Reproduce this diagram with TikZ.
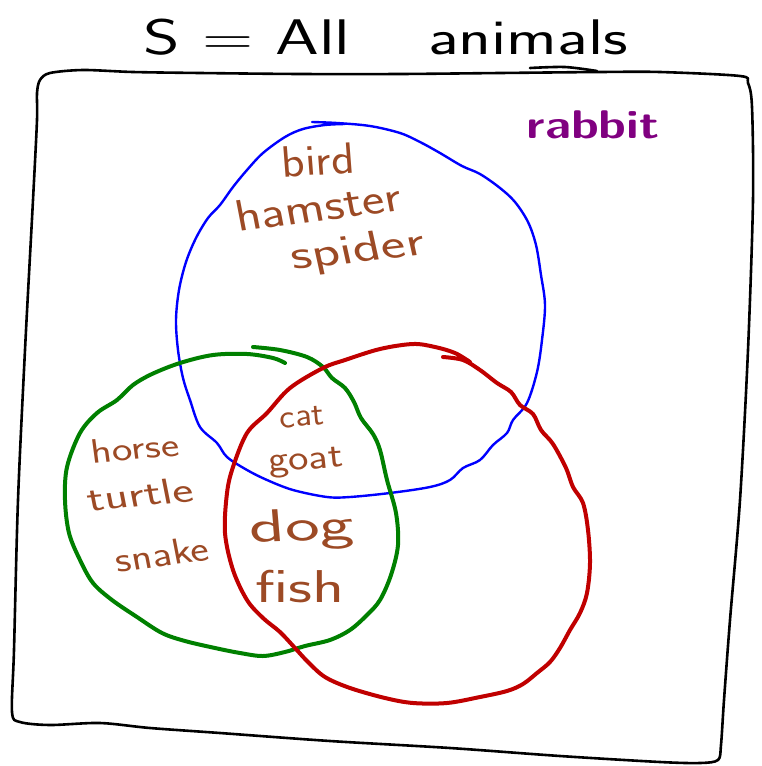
\documentclass[tikz,border=0pt]{standalone}
\usetikzlibrary{calc}
\definecolor{labbrown}{RGB}{156,74,37}
\definecolor{setblue}{RGB}{0,0,255}
\definecolor{setgreen}{RGB}{0,128,0}
\definecolor{setred}{RGB}{192,0,0}
\definecolor{rabbitpurple}{RGB}{128,0,128}
\tikzset{
  lab/.style={text=labbrown, inner sep=0pt, font=\sffamily\fontsize{#1}{#1}\selectfont},
  framepen/.style={draw=black, line width=2.6pt, line cap=round, line join=round},
  bluepen/.style={draw=setblue, line width=2.4pt, line cap=round, line join=round},
  greenpen/.style={draw=setgreen, line width=4pt, line cap=round, line join=round},
  redpen/.style={draw=setred, line width=4pt, line cap=round, line join=round},
  titlefont/.style={text=black, inner sep=0pt, font=\sffamily\fontsize{#1}{#1}\selectfont}
}
\begin{document}
\begin{tikzpicture}[x=1pt,y=-1pt]
\useasboundingbox (0,0) rectangle (761,766);

% universe frame
\draw[framepen] plot[smooth cycle, tension=0.5] coordinates {
 (37,93) (40,80) (50,73) (83,70) (133,72) (200,73) (300,74) (400,74) (500,73) (600,72) (660,72) (740,76) (748,83) (752,107)
 (753,200) (748,350) (740,500) (730,620) (724,700) (721,745) (718,760) (700,763) (660,762) (560,756) (450,748) (330,741) (220,733) (150,728) (100,723) (50,725) (20,722) (12,712)
 (14,650) (18,500) (25,350) (33,200) (37,120)};
\draw[framepen] plot[smooth] coordinates {(530,68) (565,67) (597,71)};

% title
\node[titlefont=50, xscale=1.4] (tS) at (247,37) {S = All};
\node[titlefont=50, xscale=1.36] (tA) at (528,37) {animals};

% blue set
\draw[bluepen] plot[smooth, tension=0.55] coordinates {
 (312,122) (337,123) (370,126) (400,133) (420,142) (440,153) (462,166) (480,174) (500,188) (515,202) (528,222) (536,245) (541,275) (545,305) (542,340) (537,372) (527,403) (513,420) (507,433) (493,445) (480,460) (463,468) (450,480) (430,487) (390,493) (350,497) (327,497) (293,490) (267,480) (247,470) (227,457) (217,443) (200,427) (190,400) (183,378) (178,350) (176,320) (179,290) (186,262) (196,238) (208,218) (220,205) (233,187) (247,170) (263,153) (285,137) (303,129) (325,125) (345,124)};

% green set
\draw[greenpen] plot[smooth, tension=0.55] coordinates {
 (253,347) (280,350) (307,357) (323,367) (332,378) (345,388) (354,402) (361,418) (373,434) (380,450) (387,480) (396,513) (398,545) (391,575) (380,600) (367,615) (350,630) (330,640) (305,646) (285,652) (263,656) (240,653) (215,648) (185,641) (162,633) (137,617) (112,600) (93,583) (80,560) (69,533) (65,500) (67,467) (80,433) (97,413) (117,400) (133,385) (152,374) (180,363) (213,355) (247,354) (273,358) (285,363)};

% red set
\draw[redpen] plot[smooth, tension=0.55] coordinates {
 (443,357) (463,360) (480,370) (497,383) (511,392) (520,405) (533,414) (541,430) (553,444) (566,468) (573,487) (583,503) (588,530) (590,563) (587,593) (580,613) (570,630) (560,648) (550,662) (537,673) (523,684) (507,691) (480,697) (447,703) (413,703) (385,698) (350,688) (325,677) (308,662) (295,648) (280,632) (263,618) (247,600) (233,570) (225,533) (227,493) (233,467) (247,433) (267,413) (290,388) (323,368) (345,360) (380,349) (413,344) (435,347) (455,353) (470,362)};

% labels
\node[lab=44, xscale=1.1, rotate=4] (bird) at (318,160) {bird};
\node[lab=44, xscale=1.22, rotate=9] (hamster) at (318,206) {hamster};
\node[lab=42, xscale=1.4, rotate=9] (spider) at (358,252) {spider};
\node[lab=34, xscale=1.28, rotate=6] (horse) at (135,448) {horse};
\node[lab=36, xscale=1.4, rotate=8] (turtle) at (140,494) {turtle};
\node[lab=36, xscale=1.22, rotate=9] (snake) at (162,554) {snake};
\node[lab=34, xscale=1.08, rotate=5] (cat) at (302,417) {cat};
\node[lab=36, xscale=1.2, rotate=5] (goat) at (306,463) {goat};
\node[lab=46, xscale=1.6, rotate=3] (dog) at (302,530) {dog};
\node[lab=46, xscale=1.44] (fish) at (300,587) {fish};
\node[text=rabbitpurple, inner sep=0pt, font=\sffamily\bfseries\fontsize{40}{40}\selectfont, xscale=1.24] (rabbit) at (593,125) {rabbit};
\end{tikzpicture}
\end{document}
